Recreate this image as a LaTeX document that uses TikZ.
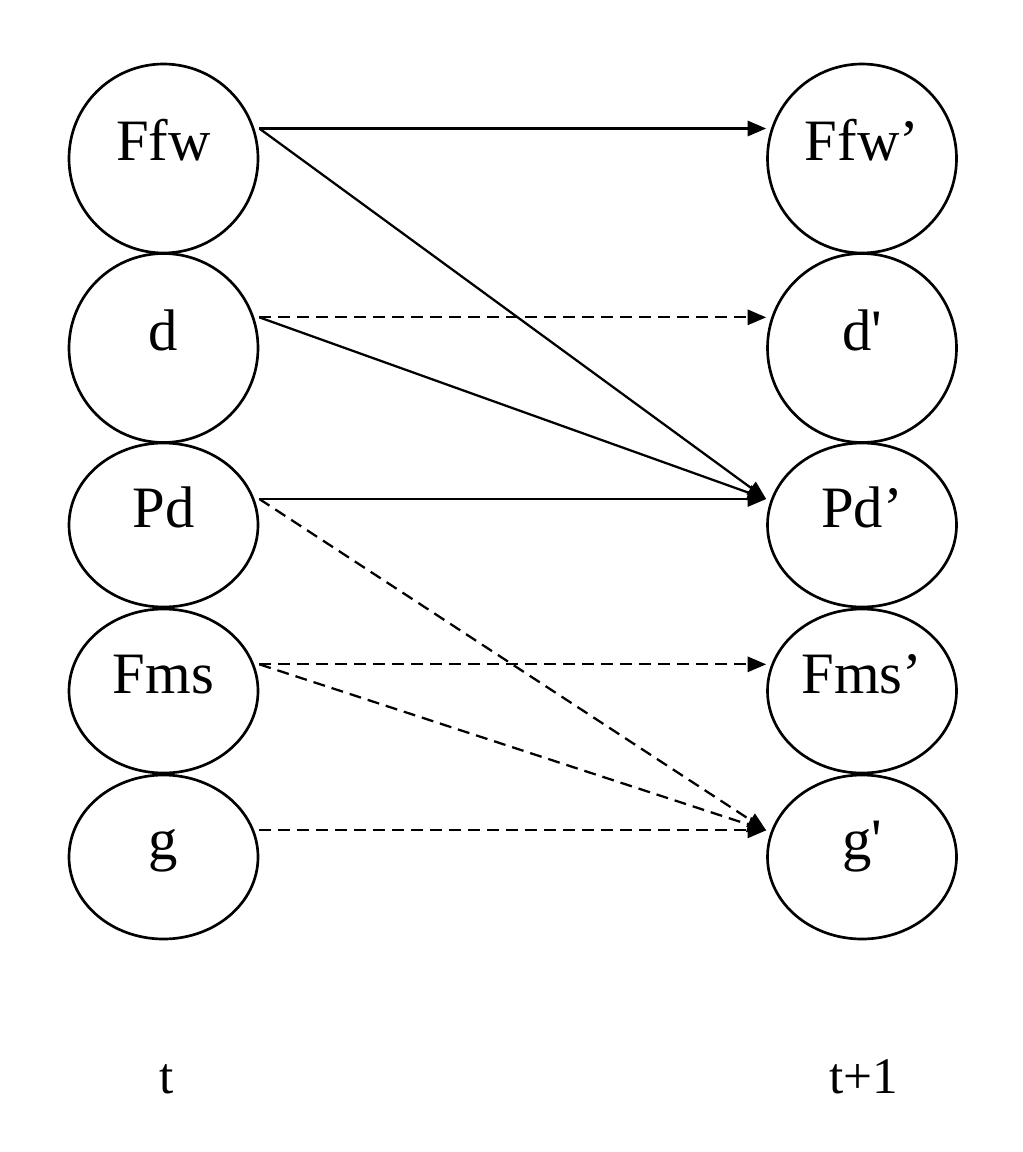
\documentclass[tikz,border=0pt]{standalone}
\usepackage{fontspec}
\setmainfont{Liberation Serif}
\usetikzlibrary{shapes.geometric,arrows.meta}
\begin{document}
\begin{tikzpicture}[x=0.75pt,y=-0.75pt,
  state/.style={ellipse,draw,line width=2pt,inner sep=0pt,minimum width=141.75pt,
    text height=3pt,text depth=0pt,font=\fontsize{44}{50}\selectfont},
  round/.style={state,minimum height=141.75pt},
  flat/.style={state,minimum height=123pt},
  link/.style={line width=1.7pt,-{Triangle[length=14pt,width=11.5pt]}},
  dlink/.style={link,dash pattern=on 9pt off 5.25pt},
  tlabel/.style={anchor=base,inner sep=0pt,font=\fontsize{38.5}{45}\selectfont}]
\useasboundingbox (0,0) rectangle (1022,1152);
% left column
\node[round] (Ffw) at (163.5,158.5) {Ffw};
\node[round] (d) at (163.5,348) {d};
\node[flat] (Pd) at (163.5,525) {Pd};
\node[flat] (Fms) at (163.5,691) {Fms};
\node[flat] (g) at (163.5,857) {g};
% right column
\node[round] (Ffw2) at (862,158.5) {Ffw’};
\node[round] (d2) at (862,348) {d\textquotesingle};
\node[flat] (Pd2) at (862,525) {Pd’};
\node[flat] (Fms2) at (862,691) {Fms’};
\node[flat] (g2) at (862,857) {g\textquotesingle};
% ports
\coordinate (Ffw-o) at ([yshift=22.5pt]Ffw.east);
\coordinate (d-o) at ([yshift=23pt]d.east);
\coordinate (Pd-o) at ([yshift=19.5pt]Pd.east);
\coordinate (Fms-o) at ([yshift=20pt]Fms.east);
\coordinate (g-o) at ([yshift=20pt]g.east);
\coordinate (Ffw2-i) at ([yshift=22.5pt]Ffw2.west);
\coordinate (d2-i) at ([yshift=23pt]d2.west);
\coordinate (Pd2-i) at ([yshift=19.5pt]Pd2.west);
\coordinate (Fms2-i) at ([yshift=20pt]Fms2.west);
\coordinate (g2-i) at ([yshift=20pt]g2.west);
% connectors
\draw[link] (Ffw-o) -- (Ffw2-i);
\draw[link] (Ffw-o) -- (Pd2-i);
\draw[dlink] (d-o) -- (d2-i);
\draw[link] (d-o) -- (Pd2-i);
\draw[link] (Pd-o) -- (Pd2-i);
\draw[dlink] (Pd-o) -- (g2-i);
\draw[dlink] (Fms-o) -- (Fms2-i);
\draw[dlink] (Fms-o) -- (g2-i);
\draw[dlink] (g-o) -- (g2-i);
% time labels
\node[tlabel] (tl) at (167,1093) {t};
\node[tlabel] (tr) at (864,1093) {t+1};
\end{tikzpicture}
\end{document}
